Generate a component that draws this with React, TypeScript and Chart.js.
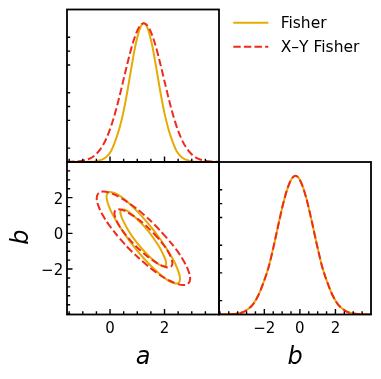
import React, { useEffect, useRef } from "react";
import { Chart, registerables } from "chart.js";
Chart.register(...registerables);

const W = 381;
const H = 379;
const colFisher = "#e6ab02";
const colXY = "#f22a1e";
const FONT = '"DejaVu Sans", "Liberation Sans", sans-serif';

// axis ranges
const aRange: [number, number] = [-1.58, 4.0];
const bRange: [number, number] = [-4.55, 4.0];
const hRange: [number, number] = [0, 1.1];

// ticks
const aMajor = [0, 2];
const aMinor = [-1.5, -1, -0.5, 0.5, 1, 1.5, 2.5, 3, 3.5];
const aTickLabels = ["0", "2"];
const bMajor = [-2, 0, 2];
const bMinor = [-4.5, -4, -3.5, -3, -2.5, -1.5, -1, -0.5, 0.5, 1, 1.5, 2.5, 3, 3.5];
const bTickLabels = ["\u22122", "0", "2"];
const hMinor = [0.1, 0.3, 0.4, 0.5, 0.7, 0.8, 0.9];

// 1D marginal of a
const fisherA_x = [-1.58, -0.76, -0.46, -0.16, 0.04, 0.19, 0.34, 0.49, 0.64, 0.79, 0.94, 1.09, 1.24, 1.39, 1.54, 1.69, 1.84, 1.99, 2.14, 2.29, 2.44, 2.64, 2.94, 3.24, 4.0];
const fisherA_y = [0, 0.001, 0.008, 0.033, 0.08, 0.15, 0.24, 0.36, 0.514, 0.688, 0.847, 0.959, 1.0, 0.959, 0.847, 0.688, 0.514, 0.36, 0.24, 0.15, 0.08, 0.033, 0.008, 0.001, 0];
const xyA_x = [-1.58, -1.16, -0.86, -0.56, -0.36, -0.16, 0.04, 0.24, 0.44, 0.64, 0.84, 1.04, 1.24, 1.44, 1.64, 1.84, 2.04, 2.24, 2.44, 2.64, 2.84, 3.04, 3.34, 3.64, 4.0];
const xyA_y = [0.001, 0.005, 0.016, 0.048, 0.091, 0.159, 0.259, 0.391, 0.549, 0.713, 0.86, 0.963, 1.0, 0.963, 0.86, 0.713, 0.549, 0.391, 0.259, 0.159, 0.091, 0.048, 0.016, 0.005, 0.001];

// 1D marginal of b
const b1D_x = [-4.55, -3.75, -3.25, -2.95, -2.65, -2.35, -2.05, -1.75, -1.45, -1.15, -0.85, -0.55, -0.25, 0.05, 0.35, 0.65, 0.95, 1.25, 1.55, 1.85, 2.15, 2.45, 2.75, 3.25, 4.0];
const fisherB_y = [0, 0.003, 0.014, 0.036, 0.072, 0.135, 0.23, 0.346, 0.507, 0.683, 0.844, 0.958, 1.0, 0.958, 0.844, 0.683, 0.507, 0.346, 0.23, 0.135, 0.072, 0.036, 0.014, 0.003, 0.0005];
const xyB_y = [0, 0.003, 0.014, 0.036, 0.072, 0.135, 0.23, 0.346, 0.507, 0.683, 0.844, 0.958, 1.0, 0.958, 0.844, 0.683, 0.507, 0.346, 0.23, 0.135, 0.072, 0.036, 0.014, 0.003, 0.0005];

// 2D contours (a, b)
const fisherOuterA = [1.9, 1.57, 1.22, 0.87, 0.55, 0.27, 0.05, -0.08, -0.13, -0.08, 0.05, 0.27, 0.55, 0.87, 1.22, 1.57, 1.9, 2.17, 2.39, 2.52, 2.57, 2.52, 2.39, 2.17, 1.9];
const fisherOuterB = [-0.44, 0.23, 0.87, 1.43, 1.88, 2.18, 2.31, 2.27, 2.06, 1.69, 1.19, 0.59, -0.07, -0.73, -1.37, -1.93, -2.38, -2.68, -2.81, -2.77, -2.56, -2.19, -1.69, -1.09, -0.44];
const fisherInnerA = [1.64, 1.44, 1.22, 1.0, 0.8, 0.63, 0.5, 0.41, 0.38, 0.41, 0.5, 0.63, 0.8, 1.0, 1.22, 1.44, 1.64, 1.81, 1.94, 2.03, 2.06, 2.03, 1.94, 1.81, 1.64];
const fisherInnerB = [-0.37, 0.05, 0.45, 0.79, 1.07, 1.26, 1.34, 1.32, 1.19, 0.96, 0.65, 0.27, -0.14, -0.55, -0.95, -1.29, -1.57, -1.76, -1.84, -1.82, -1.69, -1.46, -1.15, -0.77, -0.37];
const xyOuterA = [2.08, 1.67, 1.23, 0.78, 0.37, 0.01, -0.26, -0.43, -0.49, -0.43, -0.26, 0.01, 0.37, 0.78, 1.23, 1.67, 2.08, 2.44, 2.71, 2.88, 2.94, 2.88, 2.71, 2.44, 2.08];
const xyOuterB = [-0.25, 0.43, 1.06, 1.6, 2.01, 2.26, 2.34, 2.24, 1.97, 1.55, 1.0, 0.37, -0.31, -0.99, -1.62, -2.16, -2.57, -2.82, -2.9, -2.8, -2.53, -2.11, -1.56, -0.93, -0.25];
const xyInnerA = [1.76, 1.5, 1.23, 0.95, 0.69, 0.47, 0.3, 0.2, 0.16, 0.2, 0.3, 0.47, 0.69, 0.95, 1.23, 1.5, 1.76, 1.98, 2.15, 2.25, 2.29, 2.25, 2.15, 1.98, 1.76];
const xyInnerB = [-0.26, 0.16, 0.55, 0.88, 1.14, 1.3, 1.35, 1.29, 1.12, 0.86, 0.52, 0.12, -0.3, -0.72, -1.11, -1.44, -1.7, -1.86, -1.91, -1.85, -1.68, -1.42, -1.08, -0.68, -0.26];

const legendLabels = ["Fisher", "X\u2013Y Fisher"];

const DASH = [7.4, 3.2];
const LW = 2;

const pts = (xs: number[], ys: number[]) => xs.map((x, i) => ({ x, y: ys[i] }));

const curve1D = (xs: number[], ys: number[], color: string, dashed: boolean) => ({
  data: pts(xs, ys),
  showLine: true,
  borderColor: color,
  backgroundColor: color,
  borderWidth: LW,
  borderDash: dashed ? DASH : [],
  cubicInterpolationMode: "monotone",
  pointRadius: 0,
  fill: false,
});

const contour = (xs: number[], ys: number[], color: string, dashed: boolean) => ({
  data: pts(xs, ys),
  showLine: true,
  borderColor: color,
  backgroundColor: color,
  borderWidth: LW,
  borderDash: dashed ? DASH : [],
  tension: 0.4,
  pointRadius: 0,
  fill: false,
});

type Tick = { v: number; t: string };
interface Panel {
  rect: [number, number, number, number];
  xr: [number, number];
  yr: [number, number];
  datasets: any[];
  xMajor: number[];
  xMinor: number[];
  yMajor: number[];
  yMinor: number[];
  xLabels: Tick[];
  yLabels: Tick[];
  xTitle?: string;
  yTitle?: string;
  legend?: boolean;
}

const X0 = 67, X1 = 219, X2 = 371;
const Y0 = 9.5, Y1 = 162, Y2 = 314.5;

const panels: Panel[] = [
  {
    rect: [X0, Y0, X1, Y1],
    xr: aRange,
    yr: hRange,
    datasets: [curve1D(xyA_x, xyA_y, colXY, true), curve1D(fisherA_x, fisherA_y, colFisher, false)],
    xMajor: aMajor,
    xMinor: aMinor,
    yMajor: [],
    yMinor: hMinor,
    xLabels: [],
    yLabels: [],
    legend: true,
  },
  {
    rect: [X0, Y1, X1, Y2],
    xr: aRange,
    yr: bRange,
    datasets: [
      contour(xyOuterA, xyOuterB, colXY, true),
      contour(xyInnerA, xyInnerB, colXY, true),
      contour(fisherOuterA, fisherOuterB, colFisher, false),
      contour(fisherInnerA, fisherInnerB, colFisher, false),
    ],
    xMajor: aMajor,
    xMinor: aMinor,
    yMajor: bMajor,
    yMinor: bMinor,
    xLabels: aMajor.map((v, i) => ({ v, t: aTickLabels[i] })),
    yLabels: bMajor.map((v, i) => ({ v, t: bTickLabels[i] })),
    xTitle: "a",
    yTitle: "b",
  },
  {
    rect: [X1, Y1, X2, Y2],
    xr: bRange,
    yr: hRange,
    datasets: [curve1D(b1D_x, xyB_y, colXY, true), curve1D(b1D_x, fisherB_y, colFisher, false)],
    xMajor: bMajor,
    xMinor: bMinor,
    yMajor: [],
    yMinor: hMinor,
    xLabels: bMajor.map((v, i) => ({ v, t: bTickLabels[i] })),
    yLabels: [],
    xTitle: "b",
  },
];

const decoPlugin = (p: Panel) => ({
  id: "panelDeco",
  afterDraw(chart: any) {
    const ctx: CanvasRenderingContext2D = chart.ctx;
    const { left, top, right, bottom } = chart.chartArea;
    const xs = chart.scales.x;
    const ys = chart.scales.y;
    ctx.save();
    ctx.strokeStyle = "#000";
    ctx.lineWidth = 1.4;
    ctx.setLineDash([]);
    ctx.beginPath();
    const xt = (vals: number[], len: number) =>
      vals.forEach((v) => {
        const x = xs.getPixelForValue(v);
        ctx.moveTo(x, bottom);
        ctx.lineTo(x, bottom - len);
      });
    const yt = (vals: number[], len: number) =>
      vals.forEach((v) => {
        const y = ys.getPixelForValue(v);
        ctx.moveTo(left, y);
        ctx.lineTo(left + len, y);
      });
    xt(p.xMajor, 5.5);
    xt(p.xMinor, 3.2);
    yt(p.yMajor, 5.5);
    yt(p.yMinor, 3.2);
    ctx.stroke();

    ctx.lineWidth = 1.8;
    ctx.strokeRect(left, top, right - left, bottom - top);

    ctx.fillStyle = "#000";
    ctx.font = `15px ${FONT}`;
    ctx.textAlign = "center";
    ctx.textBaseline = "alphabetic";
    p.xLabels.forEach((l) => ctx.fillText(l.t, xs.getPixelForValue(l.v), bottom + 18.2));
    ctx.textAlign = "right";
    p.yLabels.forEach((l) => ctx.fillText(l.t, left - 3.8, ys.getPixelForValue(l.v) + 6));

    ctx.font = `italic 24px ${FONT}`;
    if (p.xTitle) {
      ctx.textAlign = "center";
      ctx.fillText(p.xTitle, (left + right) / 2, bottom + 49.5);
    }
    if (p.yTitle) {
      ctx.save();
      ctx.translate(left - 38.7, (top + bottom) / 2 - 1);
      ctx.rotate(-Math.PI / 2);
      ctx.textAlign = "center";
      ctx.fillText(p.yTitle, 0, 0);
      ctx.restore();
    }

    if (p.legend) {
      const items = [
        { color: colFisher, dash: [] as number[], y: 22.7, base: 28.3 },
        { color: colXY, dash: DASH, y: 46.7, base: 52.3 },
      ];
      items.forEach((it, i) => {
        ctx.strokeStyle = it.color;
        ctx.lineWidth = LW;
        ctx.setLineDash(it.dash);
        ctx.beginPath();
        ctx.moveTo(233.3, it.y);
        ctx.lineTo(268.3, it.y);
        ctx.stroke();
        ctx.setLineDash([]);
        ctx.fillStyle = "#000";
        ctx.font = `15.5px ${FONT}`;
        ctx.textAlign = "left";
        ctx.fillText(legendLabels[i], 280.7, it.base);
      });
    }
    ctx.restore();
  },
});

function makeChart(canvas: HTMLCanvasElement, p: Panel) {
  const [l, t, r, b] = p.rect;
  return new Chart(canvas, {
    type: "scatter",
    data: { datasets: p.datasets },
    options: {
      animation: false,
      responsive: false,
      maintainAspectRatio: false,
      devicePixelRatio: 1,
      events: [],
      layout: { padding: { left: l, top: t, right: W - r, bottom: H - b } },
      plugins: { legend: { display: false }, tooltip: { enabled: false } },
      scales: {
        x: { type: "linear", display: false, min: p.xr[0], max: p.xr[1] },
        y: { type: "linear", display: false, min: p.yr[0], max: p.yr[1] },
      },
      elements: { point: { radius: 0 } },
    } as any,
    plugins: [decoPlugin(p)],
  });
}

export default function App() {
  const r1 = useRef<HTMLCanvasElement>(null);
  const r2 = useRef<HTMLCanvasElement>(null);
  const r3 = useRef<HTMLCanvasElement>(null);
  useEffect(() => {
    const refs = [r1, r2, r3];
    const charts = refs.map((r, i) => makeChart(r.current as HTMLCanvasElement, panels[i]));
    return () => charts.forEach((c) => c.destroy());
  }, []);
  return (
    <div style={{ position: "fixed", left: 0, top: 0, width: W, height: H, background: "#fff" }}>
      {[r1, r2, r3].map((r, i) => (
        <canvas
          key={i}
          ref={r}
          width={W}
          height={H}
          style={{ position: "absolute", left: 0, top: 0, width: W, height: H }}
        />
      ))}
    </div>
  );
}
